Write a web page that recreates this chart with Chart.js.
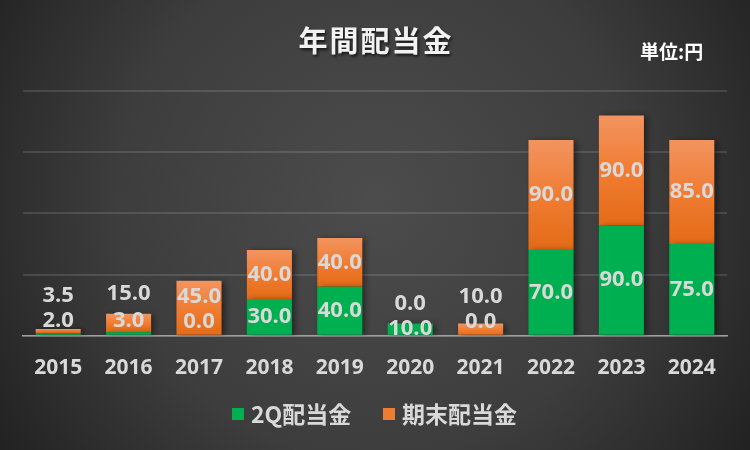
<!DOCTYPE html>
<html>
<head>
<meta charset="utf-8">
<script src="https://cdn.jsdelivr.net/npm/chart.js@4/dist/chart.umd.min.js"></script>
<style>
html,body{margin:0;padding:0;background:#333;}
#wrap{width:750px;height:450px;position:relative;}
</style>
</head>
<body>
<div id="wrap"><canvas id="c" width="750" height="450"></canvas></div>
<script>
const years = ['2015','2016','2017','2018','2019','2020','2021','2022','2023','2024'];
const q2Dividend = [2.0, 3.0, 0.0, 30.0, 40.0, 10.0, 0.0, 70.0, 90.0, 75.0];
const yearEndDividend = [3.5, 15.0, 45.0, 40.0, 40.0, 0.0, 10.0, 90.0, 90.0, 85.0];
const seriesNames = ['2Q配当金', '期末配当金'];
const seriesColors = ['#00b050', '#ee7d31'];
const chartTitle = '年間配当金';
const unitLabel = '単位:円';

const CJK = '"Noto Sans CJK JP", "Noto Sans", sans-serif';
const NUM = '"Open Sans", "Noto Sans", sans-serif';
const LABEL_COLOR = '#d9d9d9';

const bgPlugin = {
  id: 'bg',
  beforeDraw(chart) {
    const ctx = chart.ctx, w = chart.width, h = chart.height;
    ctx.save();
    const g = ctx.createRadialGradient(375, 200, 0, 375, 200, 470);
    g.addColorStop(0, '#4c4c4c');
    g.addColorStop(0.55, '#3d3d3d');
    g.addColorStop(1, '#1f1f1f');
    ctx.fillStyle = g;
    ctx.fillRect(0, 0, w, h);
    // title
    ctx.font = 'bold 29px ' + CJK;
    ctx.letterSpacing = '2px';
    ctx.textAlign = 'center';
    ctx.textBaseline = 'middle';
    ctx.shadowColor = 'rgba(0,0,0,0.7)';
    ctx.shadowBlur = 3;
    ctx.shadowOffsetX = 1.5;
    ctx.shadowOffsetY = 1.5;
    ctx.fillStyle = '#f2f2f2';
    ctx.fillText(chartTitle, 376, 41);
    ctx.letterSpacing = '0px';
    ctx.shadowColor = 'rgba(0,0,0,0)';
    ctx.font = 'bold 19px ' + CJK;
    ctx.textAlign = 'left';
    ctx.fillStyle = '#ffffff';
    ctx.fillText(unitLabel, 640, 52);
    // legend
    ctx.font = 'bold 23px ' + CJK;
    ctx.fillStyle = seriesColors[0];
    ctx.fillRect(232, 408, 12, 12);
    ctx.fillStyle = seriesColors[1];
    ctx.fillRect(383, 408, 12, 12);
    ctx.fillStyle = LABEL_COLOR;
    ctx.fillText(seriesNames[0], 251, 414);
    ctx.fillText(seriesNames[1], 402, 414);
    ctx.restore();
  }
};

const shadowPlugin = {
  id: 'barShadow',
  beforeDatasetsDraw(chart) {
    const ctx = chart.ctx;
    ctx.save();
    ctx.shadowColor = 'rgba(0,0,0,0.45)';
    ctx.shadowBlur = 6;
    ctx.shadowOffsetX = 3;
    ctx.shadowOffsetY = 1;
  },
  afterDatasetsDraw(chart) {
    chart.ctx.restore();
  }
};

const labelPlugin = {
  id: 'valueLabels',
  afterDraw(chart) {
    const ctx = chart.ctx;
    const m0 = chart.getDatasetMeta(0), m1 = chart.getDatasetMeta(1);
    ctx.save();
    ctx.font = 'bold 22px ' + NUM;
    ctx.fillStyle = LABEL_COLOR;
    ctx.textAlign = 'center';
    ctx.textBaseline = 'middle';
    for (let i = 0; i < years.length; i++) {
      const g = m0.data[i], o = m1.data[i];
      const gH = g.base - g.y;
      let gy = gH >= 10 ? (g.y + g.base) / 2 : g.base - 14;
      const oH = o.base - o.y;
      let oy = oH >= 30 ? (o.y + o.base) / 2 : o.y - 20;
      oy = Math.min(oy, gy - 25);
      ctx.fillText(yearEndDividend[i].toFixed(1), o.x, oy);
      ctx.fillText(q2Dividend[i].toFixed(1), g.x, gy);
    }
    ctx.restore();
  }
};

function orangeFill(context) {
  const chart = context.chart;
  const y = chart.scales.y;
  const i = context.dataIndex;
  if (!y || i === undefined || !chart.chartArea) return seriesColors[1];
  const top = y.getPixelForValue(q2Dividend[i] + yearEndDividend[i]);
  const bot = y.getPixelForValue(q2Dividend[i]);
  if (!isFinite(top) || !isFinite(bot) || bot - top < 1) return seriesColors[1];
  const gr = chart.ctx.createLinearGradient(0, top, 0, bot);
  gr.addColorStop(0, '#f29460');
  gr.addColorStop(0.5, '#f07d33');
  gr.addColorStop(1, '#e46a16');
  return gr;
}

new Chart(document.getElementById('c'), {
  type: 'bar',
  data: {
    labels: years,
    datasets: [
      { label: seriesNames[0], data: q2Dividend, backgroundColor: seriesColors[0], borderWidth: 0 },
      { label: seriesNames[1], data: yearEndDividend, backgroundColor: orangeFill, borderWidth: 0 }
    ]
  },
  options: {
    responsive: false,
    animation: false,
    devicePixelRatio: 1,
    layout: { padding: { top: 91, left: 23, right: 23, bottom: 49 } },
    datasets: { bar: { barPercentage: 1, categoryPercentage: 0.64 } },
    scales: {
      x: {
        stacked: true,
        grid: { display: false, drawTicks: false },
        border: { display: true, color: '#a0a0a0', width: 1.5 },
        ticks: { color: LABEL_COLOR, font: { family: NUM, size: 21, weight: 'bold' }, padding: 20 }
      },
      y: {
        stacked: true,
        min: 0, max: 200,
        ticks: { display: false, stepSize: 50 },
        grid: { color: 'rgba(255,255,255,0.12)', lineWidth: 2, drawTicks: false },
        border: { display: false }
      }
    },
    plugins: {
      title: { display: false },
      tooltip: { enabled: false },
      legend: { display: false }
    }
  },
  plugins: [bgPlugin, shadowPlugin, labelPlugin]
});
</script>
</body>
</html>
